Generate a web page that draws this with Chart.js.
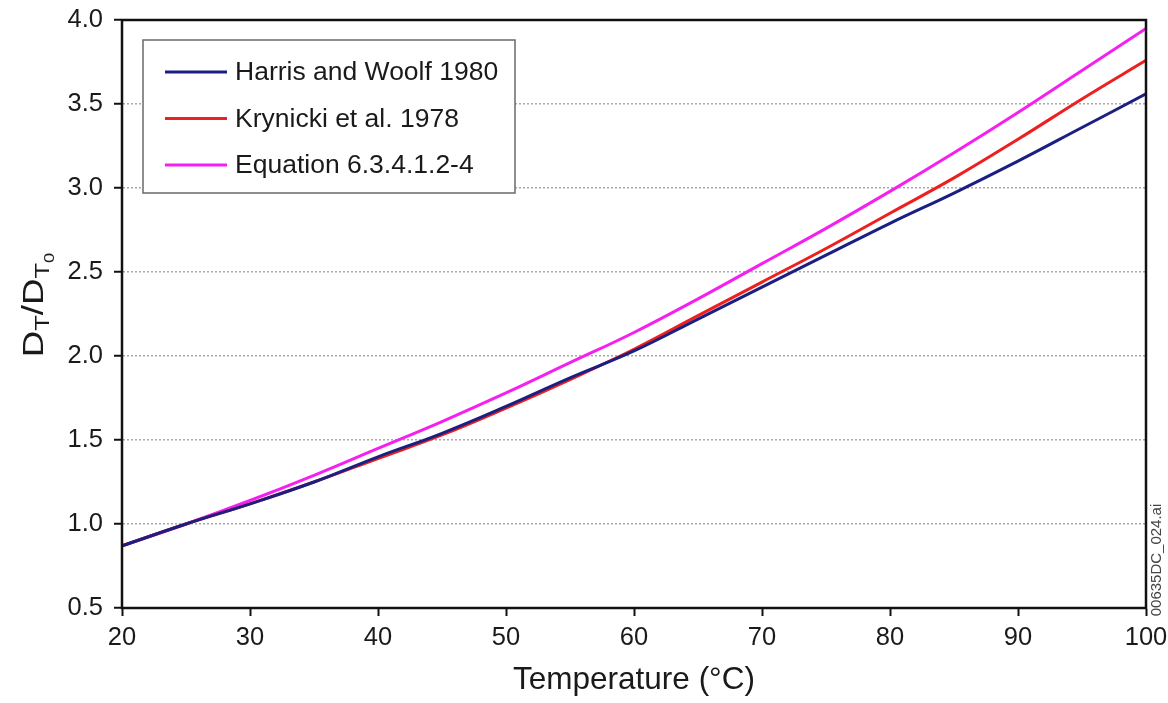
<!DOCTYPE html>
<html>
<head>
<meta charset="utf-8">
<script src="https://cdn.jsdelivr.net/npm/chart.js@4"></script>
<style>
  body { margin: 0; background: #fff; }
  canvas { display: block; }
</style>
</head>
<body>
<canvas id="chart" width="1168" height="703"></canvas>
<script>
const temps = [20, 25, 30, 35, 40, 45, 50, 55, 60, 65, 70, 75, 80, 85, 90, 95, 100];
const harris = [0.87, 1.0, 1.12, 1.25, 1.4, 1.54, 1.7, 1.87, 2.03, 2.22, 2.41, 2.6, 2.79, 2.97, 3.16, 3.36, 3.56];
const krynicki = [0.87, 1.0, 1.12, 1.25, 1.39, 1.53, 1.69, 1.86, 2.04, 2.24, 2.44, 2.64, 2.85, 3.06, 3.29, 3.53, 3.76];
const equation = [0.87, 1.0, 1.14, 1.29, 1.45, 1.61, 1.78, 1.96, 2.14, 2.34, 2.55, 2.76, 2.98, 3.21, 3.45, 3.7, 3.95];
const labels = ["Harris and Woolf 1980", "Krynicki et al. 1978", "Equation 6.3.4.1.2-4"];
const colors = ["#1c1f82", "#ee1f1f", "#f520f0"];

const font = '"Liberation Sans", Arial, sans-serif';

function points(vals) {
  return temps.map((t, i) => ({ x: t, y: vals[i] }));
}

// box around plot, legend box, y title with subscripts, file tag
const extras = {
  id: "extras",
  afterDraw(chart) {
    const ctx = chart.ctx;
    const a = chart.chartArea;
    ctx.save();
    ctx.strokeStyle = "#111";
    ctx.lineWidth = 2.5;
    ctx.strokeRect(a.left, a.top, a.right - a.left, a.bottom - a.top);

    // legend
    const lx = a.left + 21, ly = a.top + 20;
    ctx.fillStyle = "#fff";
    ctx.fillRect(lx, ly, 372, 153);
    ctx.strokeStyle = "#6a6a6a";
    ctx.lineWidth = 1.5;
    ctx.strokeRect(lx, ly, 372, 153);
    ctx.font = "26.5px " + font;
    ctx.textBaseline = "middle";
    chart.data.datasets.forEach((ds, i) => {
      const y = ly + 32 + i * 46.5;
      ctx.strokeStyle = ds.borderColor;
      ctx.lineWidth = 3;
      ctx.beginPath();
      ctx.moveTo(lx + 22, y);
      ctx.lineTo(lx + 84, y);
      ctx.stroke();
      ctx.fillStyle = "#1a1a1a";
      ctx.fillText(ds.label, lx + 92, y + 1);
    });

    // y axis title D_T/D_T0
    ctx.translate(43, 305);
    ctx.rotate(-Math.PI / 2);
    ctx.scale(1.22, 1);
    const big = "30px " + font, small = "21px " + font, tiny = "15px " + font;
    const parts = [
      ["D", big, 0], ["T", small, 6], ["/D", big, 0], ["T", small, 6], ["0", tiny, 11]
    ];
    let w = 0;
    parts.forEach(p => { ctx.font = p[1]; w += ctx.measureText(p[0]).width; });
    let x = -w / 2;
    ctx.textBaseline = "alphabetic";
    ctx.fillStyle = "#1a1a1a";
    parts.forEach(p => {
      ctx.font = p[1];
      ctx.fillText(p[0], x, p[2]);
      x += ctx.measureText(p[0]).width;
    });
    ctx.restore();

    ctx.save();
    ctx.translate(1161, 560);
    ctx.rotate(-Math.PI / 2);
    ctx.font = "15px " + font;
    ctx.fillStyle = "#444";
    ctx.textAlign = "center";
    ctx.fillText("00635DC_024.ai", 0, 0);
    ctx.restore();
  }
};

new Chart(document.getElementById("chart"), {
  type: "line",
  data: {
    datasets: [
      { label: labels[0], data: points(harris), borderColor: colors[0] },
      { label: labels[1], data: points(krynicki), borderColor: colors[1] },
      { label: labels[2], data: points(equation), borderColor: colors[2] },
    ],
  },
  options: {
    responsive: false,
    animation: false,
    layout: { padding: { top: 20, right: 22, left: 0, bottom: 0 } },
    elements: {
      line: { borderWidth: 3, tension: 0.4 },
      point: { radius: 0 },
    },
    scales: {
      x: {
        type: "linear",
        min: 20,
        max: 100,
        afterFit(axis) {
          axis.height = 95;
          axis.paddingLeft = 0;
          axis.paddingRight = 0;
        },
        ticks: { stepSize: 10, padding: 7, color: "#1a1a1a", font: { family: font, size: 25.5 } },
        grid: { drawOnChartArea: false, tickLength: 8, tickColor: "#111", tickWidth: 2 },
        border: { color: "#111", width: 2 },
        title: {
          display: true,
          text: "Temperature (°C)",
          color: "#1a1a1a",
          font: { family: font, size: 31.5 },
          padding: { top: 2 },
        },
      },
      y: {
        min: 0.5,
        max: 4.0,
        afterFit(axis) {
          axis.width = 122;
          axis.paddingTop = 0;
          axis.paddingBottom = 0;
        },
        ticks: {
          stepSize: 0.5,
          padding: 11,
          color: "#1a1a1a",
          font: { family: font, size: 25.5 },
          callback: (v) => v.toFixed(1),
        },
        grid: {
          color: (c) => (c.tick && (c.tick.value === 0.5 || c.tick.value === 4)) ? "rgba(0,0,0,0)" : "#a8a8a8",
          lineWidth: 1.5,
          tickLength: 8,
          tickColor: "#111",
          tickWidth: 2,
          tickBorderDash: [],
        },
        border: { color: "#111", width: 2, dash: [2, 2] },
      },
    },
    plugins: {
      legend: { display: false },
      tooltip: { enabled: false },
    },
  },
  plugins: [extras],
});
</script>
</body>
</html>
